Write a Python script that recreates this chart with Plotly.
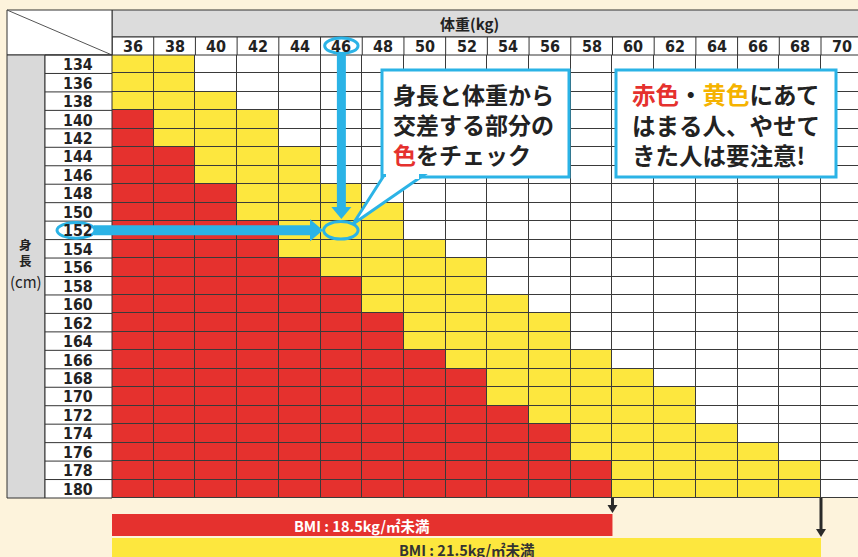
import plotly.graph_objects as go

# ---------------- data ----------------
weights = [36, 38, 40, 42, 44, 46, 48, 50, 52, 54, 56, 58, 60, 62, 64, 66, 68, 70]
heights = [134, 136, 138, 140, 142, 144, 146, 148, 150, 152, 154, 156,
           158, 160, 162, 164, 166, 168, 170, 172, 174, 176, 178, 180]
# number of red cells (from the left) in each height row
red_counts = [0, 0, 0, 1, 1, 2, 2, 3, 3, 4, 4, 5, 6, 6, 7, 7, 8, 9, 9, 10, 11, 11, 12, 12]
# number of yellow cells following the red ones
yellow_counts = [2, 2, 3, 3, 3, 3, 3, 3, 4, 3, 4, 4, 3, 4, 4, 4, 4, 4, 5, 4, 4, 5, 5, 5]

x_title = "体重(kg)"
y_title = "身<br>長"
y_unit = "(cm)"
example_weight = 46
example_height = 152
bar_labels = ["BMI : 18.5kg/㎡未満", "BMI : 21.5kg/㎡未満"]
bar_last_weights = [58, 68]
callout1_lines = ["身長と体重から", "交差する部分の",
                  '<span style="color:#e5312e">色</span>をチェック']
callout2_lines = ['<span style="color:#e5312e">赤色</span>・<span style="color:#f5b300">黄色</span>にあて',
                  "はまる人、やせて", "きた人は要注意!"]

# ---------------- styling / geometry ----------------
W, H = 858, 557
RED = "#e5312e"
YEL = "#fde73e"
BLUE = "#2bb3e6"
CREAM = "#fdf3dc"
DARK = "#333333"
GRAY = "#d9d9d9"
FONT = "Noto Sans CJK JP"
NUMFONT = "DejaVu Sans Condensed, DejaVu Sans, Noto Sans CJK JP"

COL_PX = (821 - 112) / 17.0          # pixel width of one 2-kg column
PX_PER_KG = COL_PX / 2.0
ROW_PX = (498 - 55) / 24.0
PX_PER_CM = ROW_PX / 2.0
X0 = (weights[0] - 1) - 112 / PX_PER_KG
Y0 = (heights[0] - 1) - 55 / PX_PER_CM


def px_x(p):
    return X0 + p / PX_PER_KG


def px_y(p):
    return Y0 + p / PX_PER_CM


# cell categories: 2 = red, 1 = yellow, 0 = white
z = []
for r, yv in zip(red_counts, yellow_counts):
    row = []
    for j in range(len(weights)):
        row.append(2 if j < r else (1 if j < r + yv else 0))
    z.append(row)

fig = go.Figure()
fig.add_trace(go.Heatmap(
    x=weights, y=heights, z=z, zmin=0, zmax=2,
    colorscale=[[0, "#ffffff"], [0.333, "#ffffff"], [0.333, YEL], [0.667, YEL],
                [0.667, RED], [1, RED]],
    showscale=False, xgap=1, ygap=1, hoverinfo="skip"))

shapes = []
annots = []

xl, xr = weights[0] - 1, weights[-1] + 1
yt, yb = heights[0] - 1, heights[-1] + 1

# dark backing under the heatmap -> grid lines
shapes.append(dict(type="rect", xref="x", yref="y", x0=xl, x1=xr + 1, y0=yt, y1=yb,
                   fillcolor="#3a3a3a", line=dict(width=0), layer="below"))


def rect(x0, y0, x1, y1, fill, lc=DARK, lw=1, layer="above"):
    shapes.append(dict(type="rect", xref="x", yref="y", x0=x0, x1=x1, y0=y0, y1=y1,
                       fillcolor=fill, line=dict(color=lc, width=lw), layer=layer))


def line(x0, y0, x1, y1, color=DARK, width=1):
    shapes.append(dict(type="line", xref="x", yref="y", x0=x0, x1=x1, y0=y0, y1=y1,
                       line=dict(color=color, width=width), layer="above"))


def poly(pts, fill, lc=None, lw=0):
    path = "M " + " L ".join(f"{a},{b}" for a, b in pts) + " Z"
    shapes.append(dict(type="path", xref="x", yref="y", path=path, fillcolor=fill,
                       line=dict(color=lc or fill, width=lw), layer="above"))


# header band and column-label row
rect(xl, px_y(10), px_x(W + 5), px_y(37), "#dcdcdc")
rect(xl, px_y(37), px_x(W + 5), yt, "#ffffff")
for w in weights:
    line(w - 1, px_y(37), w - 1, yt)
# corner cell
rect(px_x(7), px_y(10), xl, yt, "#ffffff")
line(px_x(7), px_y(10), xl, yt, color="#555555", width=1)
# left grey strip and row-label column
rect(px_x(7), yt, px_x(45), yb, GRAY)
rect(px_x(45), yt, xl, yb, "#ffffff")
for h in heights:
    line(px_x(45), h - 1, xl, h - 1)

# labels
annots.append(dict(x=px_x(469), y=px_y(23), text=x_title, showarrow=False,
                   font=dict(family=FONT, size=15, color="#222", weight="bold")))
for w in weights:
    annots.append(dict(x=w, y=px_y(46.5), text=str(w), showarrow=False, borderpad=0,
                       font=dict(family=NUMFONT, size=16, color="#222", weight="bold")))
for h in heights:
    annots.append(dict(x=px_x(78), y=h + 0.05, text=str(h), showarrow=False, borderpad=0,
                       font=dict(family=NUMFONT, size=15.8, color="#222", weight="bold")))
annots.append(dict(x=px_x(25.5), y=px_y(252), text=y_title, showarrow=False, borderpad=0,
                   font=dict(family=FONT, size=12.5, color="#222", weight="bold")))
annots.append(dict(x=px_x(25.5), y=px_y(281), text=y_unit, showarrow=False, borderpad=0,
                   font=dict(family=FONT, size=15, color="#222")))

# bottom BMI bars with black arrows
bar_fills = [RED, YEL]
bar_text_colors = ["#ffffff", "#333333"]
bar_tops = [514, 538]
bar_bots = [536, 562]
bar_text_y = [525, 549]
for lab, lw_, fill, tc, t, b, ty in zip(bar_labels, bar_last_weights, bar_fills,
                                         bar_text_colors, bar_tops, bar_bots, bar_text_y):
    xe = lw_ + 1
    rect(xl, px_y(t), xe, px_y(b), fill, lc=fill, lw=0)
    annots.append(dict(x=(xl + xe) / 2, y=px_y(ty), text=lab, showarrow=False, borderpad=0,
                       font=dict(family=FONT, size=14.5, color=tc, weight="bold")))
    line(xe, yb, xe, px_y(t - 7), color="#2a2a2a", width=3)
    hw = 5 / PX_PER_KG
    poly([(xe - hw, px_y(t - 9)), (xe + hw, px_y(t - 9)), (xe, px_y(t - 1))], "#2a2a2a")

# blue highlight: vertical arrow from weight label, horizontal from height label
ex, ey = example_weight, example_height
line(ex, px_y(54), ex, px_y(209), color=BLUE, width=9)
hw = 10 / PX_PER_KG
poly([(ex - hw, px_y(207)), (ex + hw, px_y(207)), (ex, px_y(219))], BLUE)
line(px_x(94), ey, px_x(312), ey, color=BLUE, width=10)
hh = 11 / PX_PER_CM
poly([(px_x(310), ey - hh), (px_x(310), ey + hh), (px_x(323), ey)], BLUE)


def ellipse(x0, y0, x1, y1):
    shapes.append(dict(type="circle", xref="x", yref="y", x0=x0, x1=x1, y0=y0, y1=y1,
                       line=dict(color=BLUE, width=3), fillcolor="rgba(0,0,0,0)",
                       layer="above"))


ellipse(ex - 0.8, px_y(38), ex + 0.8, px_y(53.5))
ellipse(px_x(57), ey - 0.85, px_x(95), ey + 0.85)
ellipse(ex - 0.85, ey - 0.95, ex + 0.8, ey + 0.95)

# callout 1 with tail
rect(px_x(382), px_y(70), px_x(569), px_y(177), "#ffffff", lc=BLUE, lw=3)
poly([(px_x(384), px_y(175.5)), (px_x(353), px_y(224)), (px_x(423), px_y(175.5))],
     "#ffffff", lc=BLUE, lw=3)
line(px_x(386), px_y(176.5), px_x(419), px_y(176.5), color="#ffffff", width=5)
# callout 2
rect(px_x(616), px_y(70), px_x(836), px_y(177), "#ffffff", lc=BLUE, lw=3)

annots.append(dict(x=px_x(392), y=px_y(124), text="<br>".join(callout1_lines),
                   showarrow=False, xanchor="left", align="left", borderpad=0,
                   font=dict(family=FONT, size=23, color="#222", weight="bold")))
annots.append(dict(x=px_x(631), y=px_y(124), text="<br>".join(callout2_lines),
                   showarrow=False, xanchor="left", align="left", borderpad=0,
                   font=dict(family=FONT, size=23.5, color="#222", weight="bold")))

fig.update_layout(
    width=W, height=H, margin=dict(l=0, r=0, t=0, b=0),
    paper_bgcolor=CREAM, plot_bgcolor=CREAM,
    xaxis=dict(range=[px_x(0), px_x(W)], visible=False, fixedrange=True),
    yaxis=dict(range=[px_y(H), px_y(0)], visible=False, fixedrange=True),
    shapes=shapes, annotations=annots, showlegend=False)

fig.write_html(
    "out.html",
    config={"displayModeBar": False},
    post_script="document.body.style.margin='0px';"
                "document.body.style.overflow='hidden';"
                f"document.body.style.background='{CREAM}';")
